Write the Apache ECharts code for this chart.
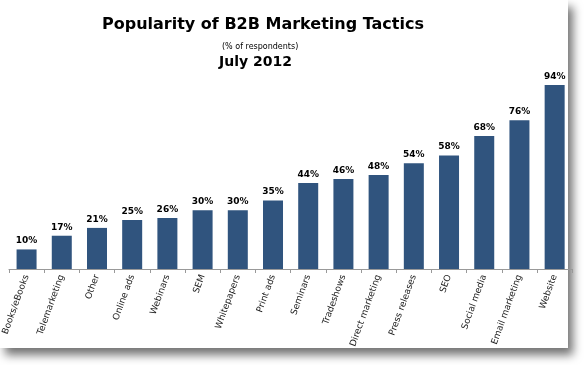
<!DOCTYPE html>
<html><head><meta charset="utf-8">
<script src="https://cdn.jsdelivr.net/npm/echarts@6/dist/echarts.min.js"></script>
<style>
html,body{margin:0;padding:0;background:#fff;width:584px;height:365px;overflow:hidden;}
#card{position:absolute;left:0;top:0;width:568px;height:348px;background:#fff;box-shadow:5px 7px 9px rgba(0,0,0,0.55);}
#chart{position:absolute;left:0;top:0;width:584px;height:365px;}
</style></head>
<body><div id="card"></div><div id="chart"></div>
<script>
const categories = ["Books/eBooks","Telemarketing","Other","Online ads","Webinars","SEM","Whitepapers","Print ads","Seminars","Tradeshows","Direct marketing","Press releases","SEO","Social media","Email marketing","Website"];
const values = [10,17,21,25,26,30,30,35,44,46,48,54,58,68,76,94];
const chart = echarts.init(document.getElementById('chart'));
chart.setOption({
  backgroundColor:'transparent',
  animation:false,
  title:[
    {text:'Popularity of B2B Marketing Tactics',left:97,top:12,textStyle:{fontFamily:'DejaVu Sans',fontWeight:'bold',fontSize:16,color:'#000'}},
    {text:'(% of respondents)',left:217,top:38,textStyle:{fontFamily:'DejaVu Sans',fontWeight:'normal',fontSize:8,color:'#000'}},
    {text:'July 2012',left:214,top:50,textStyle:{fontFamily:'DejaVu Sans',fontWeight:'bold',fontSize:14,color:'#000'}}
  ],
  grid:{left:4.25,width:568,top:73.3,height:195.7,containLabel:false},
  xAxis:{type:'category',data:categories,
    axisLine:{lineStyle:{color:'#999',width:1}},
    axisTick:{show:true,length:4,lineStyle:{color:'#999'}},
    axisLabel:{rotate:70,fontFamily:'DejaVu Sans',fontSize:9,color:'#222',margin:6,interval:0}},
  yAxis:{type:'value',min:0,max:100,show:false,splitLine:{show:false}},
  series:[{type:'bar',data:values,barWidth:20,itemStyle:{color:'#30547E'},
    label:{show:true,position:'top',formatter:'{c}%',fontFamily:'DejaVu Sans',fontWeight:'bold',fontSize:9,color:'#000',distance:4}}]
});
</script></body></html>
